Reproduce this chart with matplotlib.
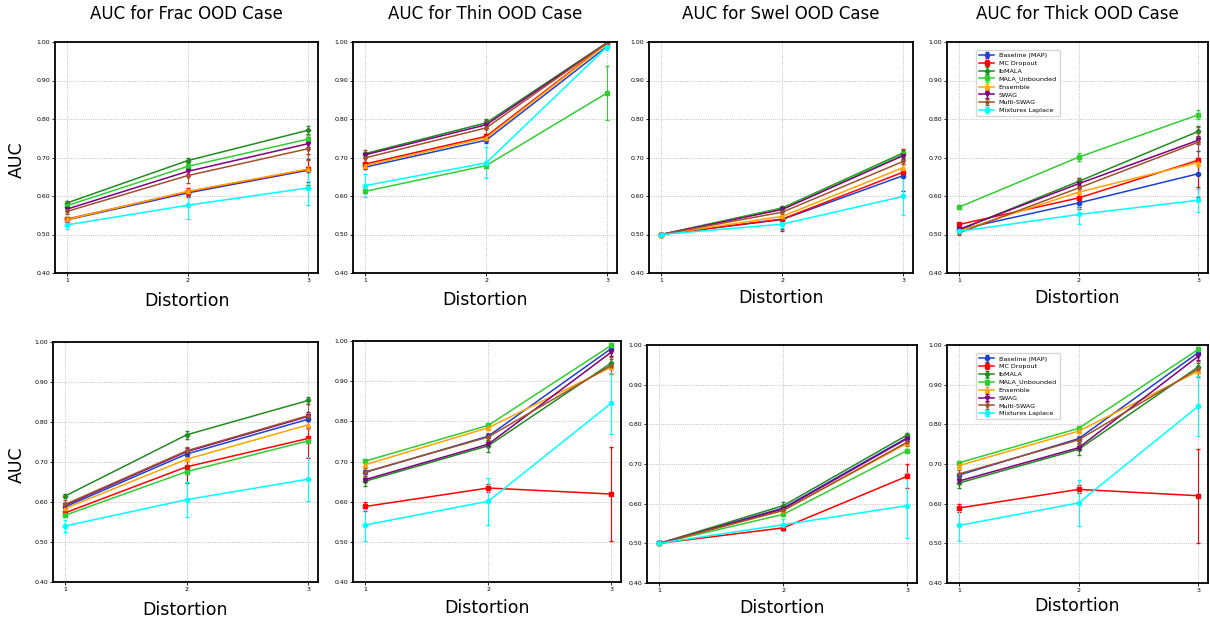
import numpy as np
import matplotlib
matplotlib.use("Agg")
import matplotlib.pyplot as plt

# === DATA ===
METHODS = ["Baseline (MAP)", "MC Dropout", "lbMALA", "MALA_Unbounded",
           "Ensemble", "SWAG", "Multi-SWAG", "Mixtures Laplace"]
COLORS = ["#1f3fd0", "red", "forestgreen", "limegreen", "orange", "purple", "sienna", "cyan"]
MARKERS = ["o", "s", "P", "s", "^", "v", "*", "o"]
DISTORTION = [1, 2, 3]
TITLES = ["AUC for Frac OOD Case", "AUC for Thin OOD Case",
          "AUC for Swel OOD Case", "AUC for Thick OOD Case"]

# top row
FRAC_A = [[0.538, 0.608, 0.667], [0.540, 0.611, 0.669], [0.582, 0.692, 0.771], [0.575, 0.677, 0.748],
          [0.539, 0.612, 0.670], [0.566, 0.664, 0.736], [0.560, 0.653, 0.723], [0.525, 0.576, 0.621]]
FRAC_A_ERR = [[0.005, 0.01, 0.03], [0.005, 0.01, 0.04], [0.004, 0.006, 0.01], [0.004, 0.006, 0.01],
              [0.004, 0.005, 0.008], [0.004, 0.006, 0.01], [0.008, 0.02, 0.03], [0.01, 0.035, 0.045]]
THIN_A = [[0.675, 0.745, 0.989], [0.683, 0.755, 0.997], [0.710, 0.790, 0.999], [0.612, 0.679, 0.868],
          [0.679, 0.751, 0.996], [0.707, 0.785, 0.998], [0.699, 0.777, 0.998], [0.627, 0.686, 0.988]]
THIN_A_ERR = [[0.005, 0.008, 0.005], [0.005, 0.005, 0.003], [0.005, 0.01, 0.002], [0.005, 0.006, 0.07],
              [0.005, 0.005, 0.003], [0.005, 0.01, 0.003], [0.02, 0.02, 0.003], [0.03, 0.04, 0.01]]
SWEL_A = [[0.500, 0.539, 0.653], [0.500, 0.540, 0.662], [0.500, 0.569, 0.712], [0.500, 0.567, 0.709],
          [0.500, 0.547, 0.674], [0.500, 0.565, 0.705], [0.500, 0.558, 0.690], [0.500, 0.527, 0.599]]
SWEL_A_ERR = [[0.002, 0.025, 0.04], [0.002, 0.03, 0.06], [0.002, 0.004, 0.008], [0.002, 0.004, 0.008],
              [0.002, 0.004, 0.008], [0.002, 0.004, 0.008], [0.002, 0.004, 0.008], [0.002, 0.01, 0.048]]
THICK_A = [[0.513, 0.582, 0.658], [0.526, 0.595, 0.693], [0.512, 0.638, 0.768], [0.571, 0.701, 0.811],
           [0.509, 0.610, 0.687], [0.513, 0.632, 0.745], [0.504, 0.621, 0.740], [0.508, 0.552, 0.589]]
THICK_A_ERR = [[0.005, 0.01, 0.06], [0.005, 0.03, 0.07], [0.005, 0.01, 0.015], [0.005, 0.01, 0.012],
               [0.005, 0.01, 0.01], [0.005, 0.01, 0.01], [0.005, 0.025, 0.04], [0.005, 0.025, 0.03]]

# bottom row
FRAC_B = [[0.588, 0.720, 0.807], [0.573, 0.688, 0.759], [0.615, 0.768, 0.854], [0.567, 0.676, 0.753],
          [0.584, 0.707, 0.793], [0.592, 0.726, 0.814], [0.594, 0.728, 0.816], [0.540, 0.606, 0.657]]
FRAC_B_ERR = [[0.005, 0.005, 0.005], [0.005, 0.04, 0.05], [0.005, 0.01, 0.008], [0.005, 0.005, 0.005],
              [0.005, 0.005, 0.01], [0.005, 0.01, 0.01], [0.01, 0.01, 0.03], [0.015, 0.043, 0.055]]
THIN_B = [[0.673, 0.763, 0.981], [0.588, 0.634, 0.619], [0.651, 0.739, 0.945], [0.701, 0.790, 0.989],
          [0.692, 0.784, 0.935], [0.655, 0.743, 0.972], [0.674, 0.761, 0.939], [0.542, 0.601, 0.845]]
THIN_B_ERR = [[0.005, 0.005, 0.005], [0.01, 0.01, 0.118], [0.012, 0.015, 0.01], [0.005, 0.005, 0.005],
              [0.005, 0.005, 0.005], [0.005, 0.005, 0.01], [0.01, 0.01, 0.02], [0.04, 0.058, 0.076]]
SWEL_B = [[0.500, 0.589, 0.766], [0.500, 0.539, 0.669], [0.500, 0.595, 0.773], [0.500, 0.573, 0.734],
          [0.500, 0.583, 0.752], [0.500, 0.587, 0.764], [0.500, 0.583, 0.755], [0.500, 0.547, 0.595]]
SWEL_B_ERR = [[0.002, 0.005, 0.005], [0.002, 0.005, 0.03], [0.002, 0.008, 0.006], [0.002, 0.005, 0.005],
              [0.002, 0.005, 0.005], [0.002, 0.005, 0.005], [0.002, 0.005, 0.01], [0.002, 0.015, 0.082]]
THICK_B = [[0.672, 0.764, 0.981], [0.589, 0.636, 0.620], [0.652, 0.737, 0.945], [0.703, 0.790, 0.989],
           [0.696, 0.783, 0.934], [0.657, 0.741, 0.972], [0.675, 0.761, 0.940], [0.545, 0.602, 0.846]]
THICK_B_ERR = [[0.005, 0.005, 0.005], [0.01, 0.01, 0.118], [0.012, 0.015, 0.01], [0.005, 0.005, 0.005],
               [0.005, 0.005, 0.005], [0.005, 0.005, 0.01], [0.01, 0.01, 0.02], [0.04, 0.058, 0.076]]

YTICKS = [0.4, 0.5, 0.6, 0.7, 0.8, 0.9, 1.0]

# panel boxes in pixels: left, top, right, bottom
W, H = 1210, 617
BOXES = [(55, 42, 318, 273), (353, 42, 617, 273), (649, 42, 913, 273), (947, 42, 1208, 273),
         (53, 342, 318, 582), (353, 341, 621, 582), (647, 345, 917, 583), (947, 345, 1208, 583)]
PANELS = [(FRAC_A, FRAC_A_ERR), (THIN_A, THIN_A_ERR), (SWEL_A, SWEL_A_ERR), (THICK_A, THICK_A_ERR),
          (FRAC_B, FRAC_B_ERR), (THIN_B, THIN_B_ERR), (SWEL_B, SWEL_B_ERR), (THICK_B, THICK_B_ERR)]
XLABEL_Y = [301, 300, 298, 298, 610, 608, 608, 606]


fig = plt.figure(figsize=(W / 100, H / 100), dpi=100)

for i, ((means, errs), box) in enumerate(zip(PANELS, BOXES)):
    l, t, r, b = box
    ax = fig.add_axes([l / W, 1 - b / H, (r - l) / W, (b - t) / H])
    for m in range(len(METHODS)):
        ax.errorbar(DISTORTION, means[m], yerr=errs[m], color=COLORS[m], marker=MARKERS[m],
                    markersize=3, linewidth=1.1, elinewidth=0.8, capsize=1.5, label=METHODS[m])
    ax.set_xlim(0.9, 3.08)
    ax.set_ylim(0.4, 1.0)
    ax.set_xticks(DISTORTION)
    ax.set_yticks(YTICKS)
    ax.set_yticklabels([f"{v:.2f}" for v in YTICKS])
    ax.tick_params(labelsize=4.5, length=2, width=0.6, pad=1.5)
    ax.grid(True, linestyle=":", color="#b0b0b0", linewidth=0.6)
    for s in ax.spines.values():
        s.set_linewidth(1.3)
    if i < 4:
        fig.text((l + r) / 2 / W, 1 - 14 / H, TITLES[i], ha="center", va="center", fontsize=12)
    fig.text((l + r) / 2 / W, 1 - XLABEL_Y[i] / H, "Distortion", ha="center", va="center", fontsize=12.5)
    if i in (3, 7):
        ax.legend(loc="upper left", bbox_to_anchor=(0.1, 0.98), fontsize=4.6, handlelength=2.2,
                  borderpad=0.5, labelspacing=0.35)

fig.text(17 / W, 1 - 160 / H, "AUC", rotation=90, ha="center", va="center", fontsize=12.5)
fig.text(17 / W, 1 - 465 / H, "AUC", rotation=90, ha="center", va="center", fontsize=12.5)

fig.savefig("out.png", dpi=100)
